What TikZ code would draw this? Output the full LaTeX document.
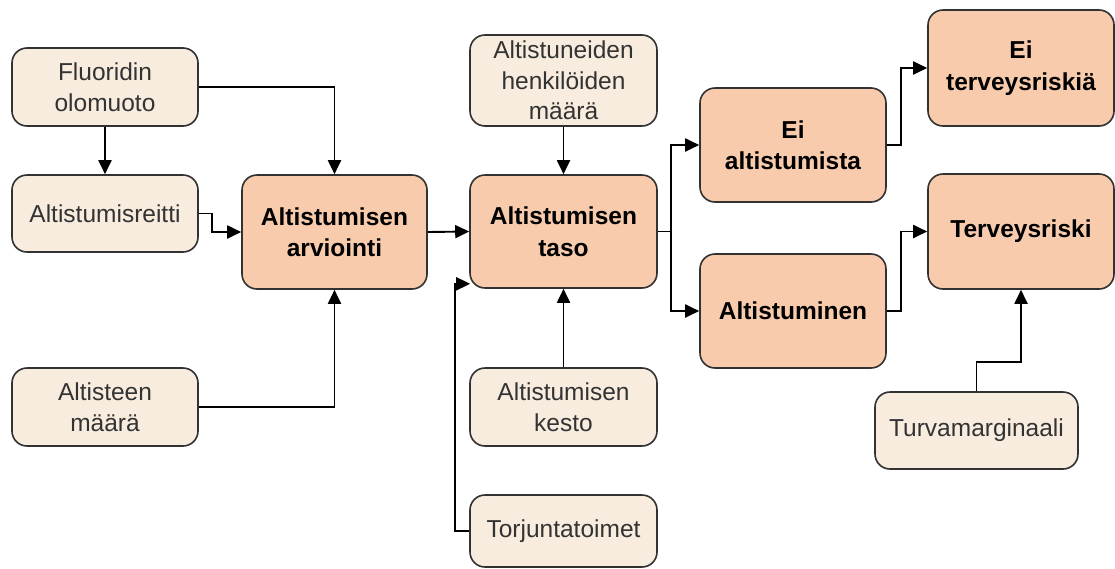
\documentclass[tikz,border=0pt]{standalone}
\usepackage{fontspec}
\setmainfont{Liberation Sans}
\usetikzlibrary{arrows.meta,calc}
\definecolor{beige}{RGB}{247,236,222}
\definecolor{peach}{RGB}{248,203,173}
\definecolor{edge}{RGB}{50,50,50}
\definecolor{softtext}{RGB}{51,51,51}
\tikzset{
  box/.style={draw=edge, line width=1.6pt, rounded corners=15pt, inner sep=0pt, align=center,
     font=\fontsize{24.5}{30.5}\selectfont},
  inbox/.style={box, fill=beige, text=softtext},
  keybox/.style={box, fill=peach, text=black, font=\fontsize{24.5}{31.5}\selectfont\bfseries},
  conn/.style={draw=black, line width=1.9pt, -{Triangle[length=14pt,width=13pt]}},
  plain/.style={draw=black, line width=1.9pt}
}
\begin{document}
\begin{tikzpicture}[x=1pt,y=-1pt]
\useasboundingbox (0,0) rectangle (1115,568);
% nodes
\node[inbox, minimum width=186pt, minimum height=78pt] (fl) at (105,87) {Fluoridin\\olomuoto};
\node[inbox, minimum width=186pt, minimum height=77pt] (ar) at (105,213.5) {Altistumisreitti};
\node[inbox, minimum width=186pt, minimum height=78pt] (am) at (105,407) {Altisteen\\määrä};
\node[keybox, minimum width=185pt, minimum height=114pt] (arv) at (334.5,232) {Altistumisen\\arviointi};
\node[inbox, minimum width=187pt, minimum height=91pt] (hk) at (563.5,80.5) {Altistuneiden\\henkilöiden\\määrä};
\node[keybox, minimum width=187pt, minimum height=113pt] (taso) at (563.5,231.5) {Altistumisen\\taso};
\node[inbox, minimum width=187pt, minimum height=78pt] (kesto) at (563.5,407) {Altistumisen\\kesto};
\node[inbox, minimum width=187pt, minimum height=72pt] (torj) at (563.5,531) {Torjuntatoimet};
\node[keybox, minimum width=186pt, minimum height=114pt] (eia) at (793,145) {Ei\\altistumista};
\node[keybox, minimum width=186pt, minimum height=114pt] (alt) at (793,311) {Altistuminen};
\node[keybox, minimum width=186pt, minimum height=116pt] (eit) at (1021,68) {Ei\\terveysriskiä};
\node[keybox, minimum width=186pt, minimum height=115pt] (ter) at (1021,231.5) {Terveysriski};
\node[inbox, minimum width=203pt, minimum height=77pt] (turva) at (976.5,430.5) {Turvamarginaali};
% connectors
\draw[conn] (fl.east) -| (arv.north);
\draw[conn] (fl.south) -- (ar.north);
\draw[conn] (ar.east) -- ++(13,0) |- (arv.west);
\draw[conn] (am.east) -| (arv.south);
\draw[conn] (arv.east) -- (taso.west);
\draw[conn] (hk.south) -- (taso.north);
\draw[conn] (kesto.north) -- (taso.south);
\coordinate (tin) at ($(taso.south west)+(1,-5)$);
\draw[conn] (torj.west) -- ++(-14,0) |- (tin);
\coordinate (sp) at ($(taso.east)+(13,0)$);
\draw[plain] (taso.east) -- (sp);
\draw[conn] (sp) |- (eia.west);
\draw[conn] (sp) |- (alt.west);
\draw[conn] (eia.east) -- ++(14,0) |- (eit.west);
\draw[conn] (alt.east) -- ++(14,0) |- (ter.west);
\draw[conn] (turva.north) -- ++(0,-29) -| (ter.south);
\end{tikzpicture}
\end{document}
